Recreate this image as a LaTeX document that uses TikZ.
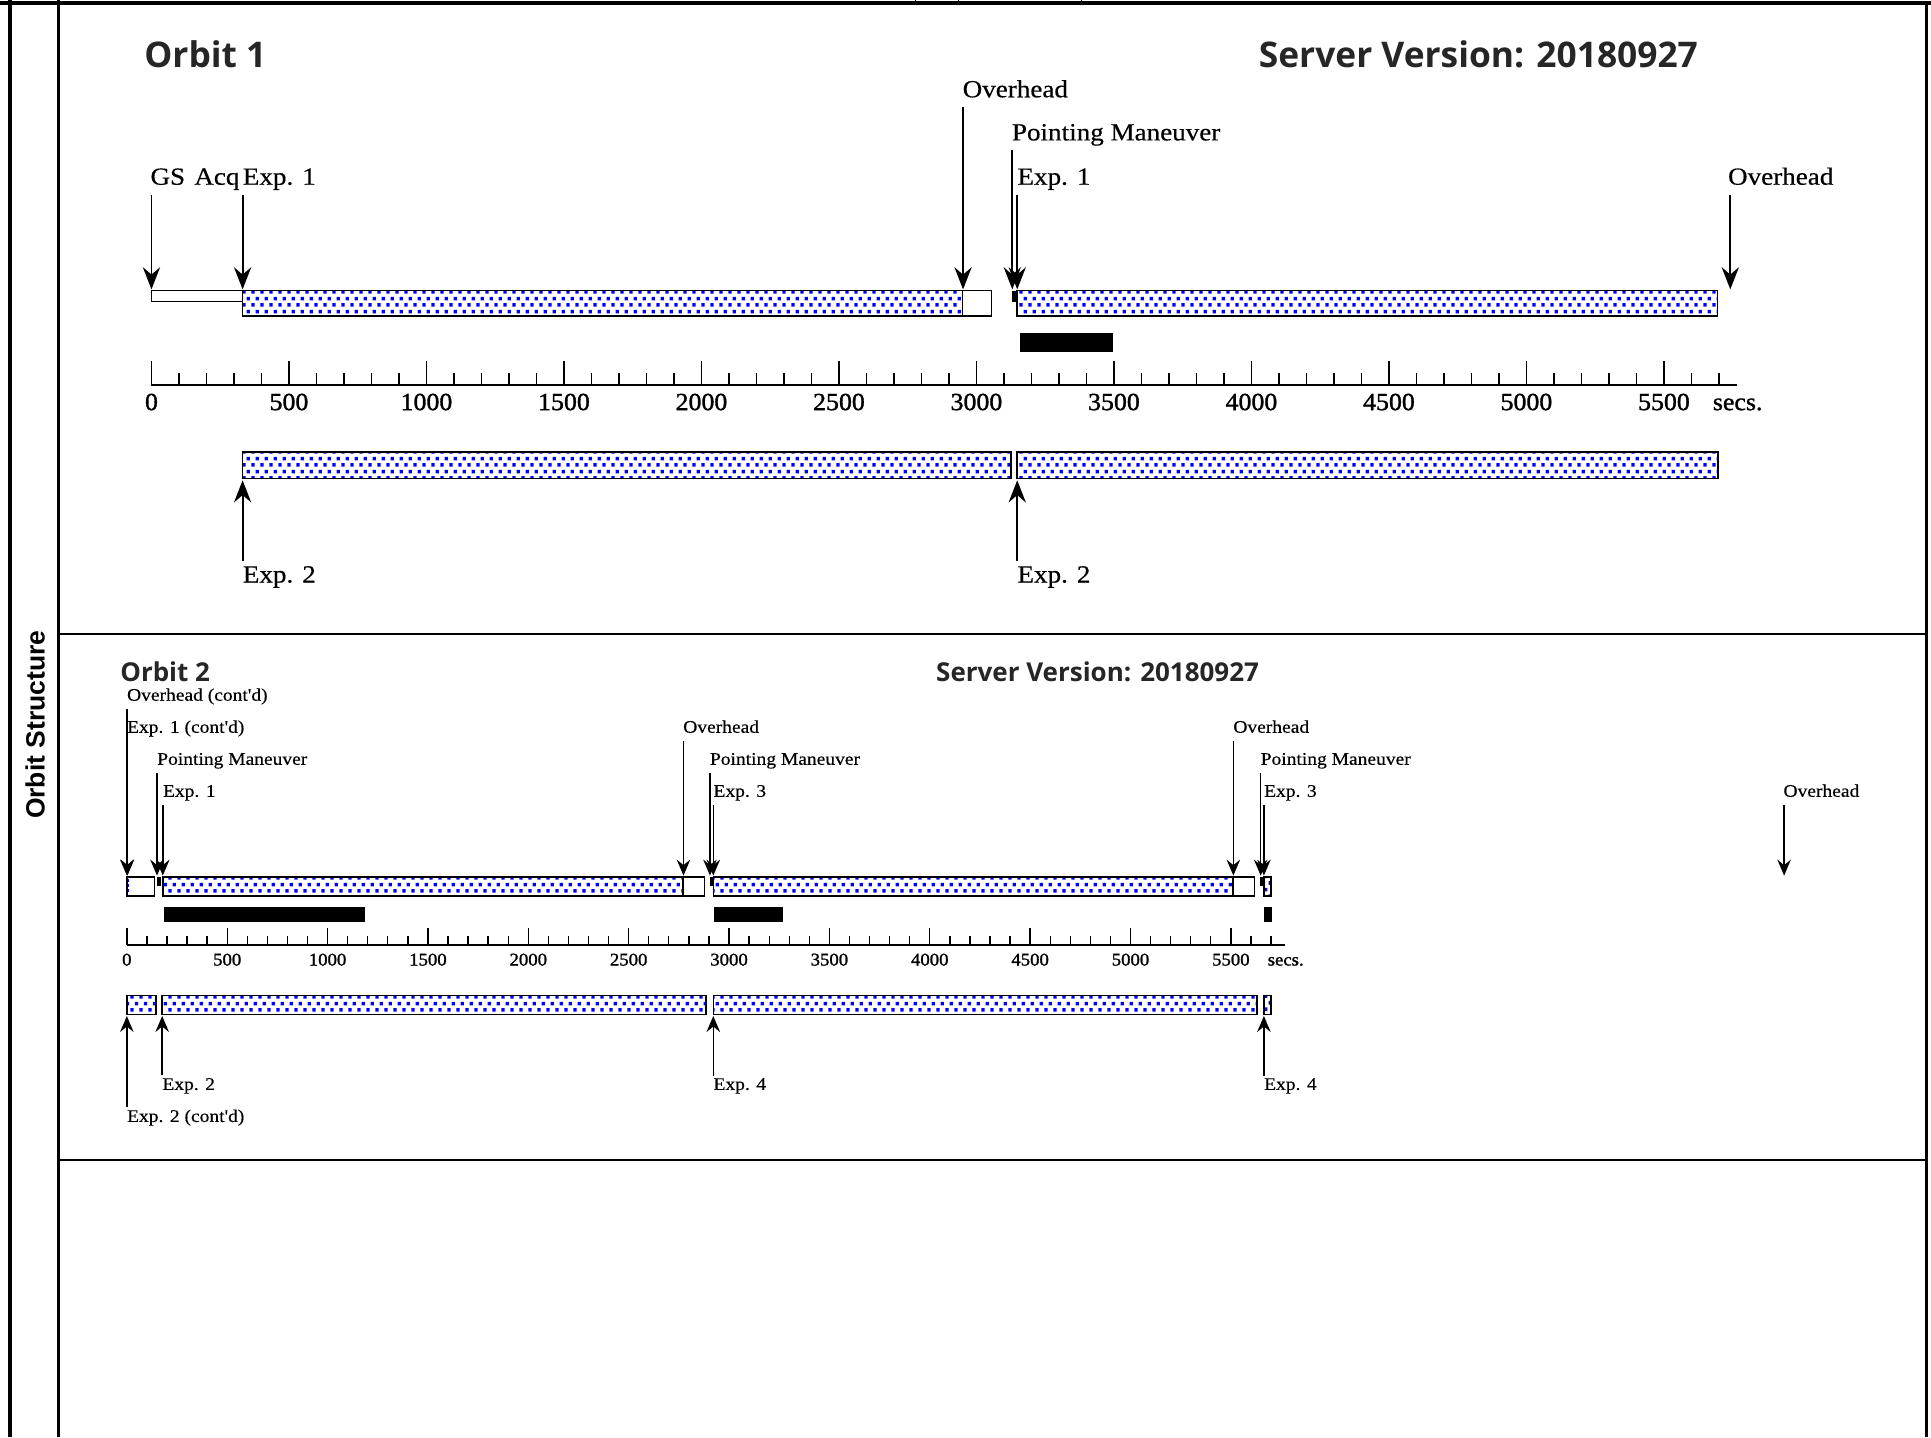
\documentclass[tikz,border=0pt]{standalone}
\usepackage{fontspec}
\setmainfont{Liberation Serif}
\newfontfamily\lblfont[FakeStretch=1.1,FakeBold=0.4]{Liberation Serif}
\newfontfamily\numfont[FakeStretch=1.05,FakeBold=1.3]{Liberation Serif}
\newfontfamily\hdrfont{Open Sans}
\newfontfamily\sidefont{Liberation Sans}
\usetikzlibrary{arrows.meta,patterns}
\pgfdeclarepatternformonly{bdots}{\pgfqpoint{0pt}{0pt}}{\pgfqpoint{7.6pt}{10.8pt}}{\pgfqpoint{7.6pt}{10.8pt}}{%
  \pgfpathrectangle{\pgfqpoint{0.3pt}{0.3pt}}{\pgfqpoint{2.8pt}{3pt}}%
  \pgfpathrectangle{\pgfqpoint{4.1pt}{5.7pt}}{\pgfqpoint{2.8pt}{3pt}}%
  \pgfusepath{fill}}
\tikzset{
  expbar/.style={draw=black, line width=1.2pt, pattern=bdots, pattern color=blue},
  ohbox/.style={draw=black, line width=1.2pt, fill=white},
  slewbox/.style={fill=black},
  obsbar/.style={fill=black},
  axisline/.style={line width=1.6pt},
  tickline/.style={line width=1.1pt},
  lblA/.style={inner sep=0pt, anchor=base west, font=\lblfont\fontsize{20}{21}\selectfont},
  lblB/.style={inner sep=0pt, anchor=base west, font=\lblfont\fontsize{14.4}{15}\selectfont},
  numA/.style={inner sep=0pt, anchor=base, font=\numfont\fontsize{20}{21}\selectfont},
  numB/.style={inner sep=0pt, anchor=base, font=\numfont\fontsize{14.5}{15}\selectfont},
  hdrA/.style={inner sep=0pt, anchor=base west, text=black!85, font=\hdrfont\bfseries\fontsize{28.7}{30}\selectfont},
  hdrB/.style={inner sep=0pt, anchor=base west, text=black!85, font=\hdrfont\bfseries\fontsize{21.1}{22}\selectfont},
  arrA/.style={line width=1.5pt, -{Stealth[length=18pt,width=14pt,inset=6pt]}},
  arrB/.style={line width=1.2pt, -{Stealth[length=13pt,width=11pt,inset=4.5pt]}},
}
\begin{document}
\begin{tikzpicture}[x=1pt,y=-1pt]
\fill[white] (0,0) rectangle (1568,1167);
\path[use as bounding box] (0,0) rectangle (1568,1167);

% ---------------- frame ----------------
\draw[line width=3pt] (0,2.5) -- (1568,2.5);
\draw[line width=3pt] (8,0) -- (8,1167);
\draw[line width=1.8pt] (47.5,0) -- (47.5,1167);
\draw[line width=2pt] (1564.5,2.5) -- (1564.5,1167);
\draw[line width=2pt] (47.5,515) -- (1564.5,515);
\draw[line width=2.2pt] (47.5,942) -- (1564.5,942);
\foreach \sx in {743,778,878} {\draw[line width=0.8pt] (\sx,0) -- (\sx,2.5);}
\node[rotate=90, inner sep=0pt, font=\sidefont\bfseries\fontsize{21.5}{22}\selectfont] (side) at (28.5,588.5) {Orbit Structure};

% ---------------- Orbit 1 ----------------
\node[hdrA] (h1) at (117,54.5) {Orbit 1};
\node[hdrA] (h2) at (1022,54.5) {Server Version: 20180927};

% top row
\draw[ohbox] (123,236) rectangle (197,245);
\draw[expbar] (197,236) rectangle (781.5,256.5);
\draw[ohbox] (781.5,236) rectangle (805,256.5);
\fill[slewbox] (822,236) rectangle (826,245);
\draw[expbar] (826,236) rectangle (1394.5,256.5);
\fill[obsbar] (828,270) rectangle (904,286);

\coordinate (a1) at (123,235);
\coordinate (a2) at (197,235);
\coordinate (a3) at (782,235);
\coordinate (a4) at (822,235);
\coordinate (a5) at (826,235);
\coordinate (a6) at (1405,235);
\node[lblA] (l1) at (122,150) {GS\hspace{2pt} Acq};
\node[lblA] (l2) at (197,150) {Exp. 1};
\node[lblA] (l3) at (781.5,79) {Overhead};
\node[lblA] (l4) at (821.5,114) {Pointing Maneuver};
\node[lblA] (l5) at (826,150) {Exp. 1};
\node[lblA] (l6) at (1403,150) {Overhead};
\draw[arrA] (a1 |- l1.base) ++(0,8) -- (a1);
\draw[arrA] (a2 |- l2.base) ++(0,8) -- (a2);
\draw[arrA] (a3 |- l3.base) ++(0,8) -- (a3);
\draw[arrA] (a4 |- l4.base) ++(0,8) -- (a4);
\draw[arrA] (a5 |- l5.base) ++(0,8) -- (a5);
\draw[arrA] (a6 |- l6.base) ++(0,8) -- (a6);

% axis
\draw[axisline] (123,313) -- (1410.5,313);
\foreach \t in {0,100,...,5700} {\draw[tickline] ({123+0.2233*\t},313) -- ++(0,-10);}
\foreach \t in {0,500,...,5500} {
  \draw[tickline] ({123+0.2233*\t},313) -- ++(0,-20);
  \node[numA] (o1n\t) at ({123+0.2233*\t},333) {\t};
}
\node[numA] (o1secs) at (1411,333) {secs.};

% bottom row
\draw[expbar] (197,367) rectangle (821,388.5);
\draw[expbar] (826,367) rectangle (1395,388.5);
\coordinate (b1) at (197,390);
\coordinate (b2) at (826,390);
\node[lblA] (l7) at (197,473) {Exp. 2};
\node[lblA] (l8) at (826,473) {Exp. 2};
\draw[arrA] (b1 |- l7.north) ++(0,-4) -- (b1);
\draw[arrA] (b2 |- l8.north) ++(0,-4) -- (b2);

% ---------------- Orbit 2 ----------------
\node[hdrB] (h3) at (97.5,553) {Orbit 2};
\node[hdrB] (h4) at (760,553) {Server Version: 20180927};

% top row
\draw[ohbox] (103,712) rectangle (125.5,727.5);
\draw[blue, line width=1.2pt, dash pattern=on 2pt off 2pt] (104.5,714) -- (104.5,726);
\fill[slewbox] (127.5,712) rectangle (130.5,719.5);
\draw[expbar] (132.2,712) rectangle (554.6,727.5);
\draw[ohbox] (554.6,712) rectangle (572.2,727.5);
\fill[slewbox] (576.3,712) rectangle (579.2,719.5);
\draw[expbar] (579.2,712) rectangle (1001.3,727.5);
\draw[ohbox] (1001.3,712) rectangle (1018.8,727.5);
\fill[slewbox] (1023.5,712) rectangle (1026.3,719.5);
\draw[expbar] (1026.3,712) rectangle (1032.2,727.5);
\fill[obsbar] (133,736.3) rectangle (296.6,749);
\fill[obsbar] (579.6,736.3) rectangle (635.5,749);
\fill[obsbar] (1026.3,736.3) rectangle (1033,749);

\coordinate (c1) at (103,711);
\coordinate (c2) at (103.5,711);
\coordinate (c3) at (127.5,711);
\coordinate (c4) at (132.2,711);
\coordinate (c5) at (555,711);
\coordinate (c6) at (576.5,711);
\coordinate (c7) at (579.2,711);
\coordinate (c8) at (1001.5,711);
\coordinate (c9) at (1023.7,711);
\coordinate (c10) at (1026.3,711);
\coordinate (c11) at (1448.7,711);
\node[lblB] (m1) at (103,569) {Overhead (cont'd)};
\node[lblB] (m2) at (103,595) {Exp. 1 (cont'd)};
\node[lblB] (m3) at (127.5,621) {Pointing Maneuver};
\node[lblB] (m4) at (132.2,647) {Exp. 1};
\node[lblB] (m5) at (554.6,595) {Overhead};
\node[lblB] (m6) at (576.3,621) {Pointing Maneuver};
\node[lblB] (m7) at (579.2,647) {Exp. 3};
\node[lblB] (m8) at (1001.3,595) {Overhead};
\node[lblB] (m9) at (1023.5,621) {Pointing Maneuver};
\node[lblB] (m10) at (1026.3,647) {Exp. 3};
\node[lblB] (m11) at (1448,647) {Overhead};
\foreach \i in {1,...,11} {\draw[arrB] (c\i |- m\i.base) ++(0,7) -- (c\i);}

% axis
\draw[axisline] (103,767.4) -- (1043.4,767.4);
\foreach \t in {0,100,...,5700} {\draw[tickline] ({103+0.163*\t},767.4) -- ++(0,-7);}
\foreach \t in {0,500,...,5500} {
  \draw[tickline] ({103+0.163*\t},767.4) -- ++(0,-13.5);
  \node[numB] (o2n\t) at ({103+0.163*\t},784) {\t};
}
\node[numB] (o2secs) at (1044,784) {secs.};

% bottom row
\draw[expbar] (103,808.5) rectangle (126.8,823.7);
\draw[expbar] (131.7,808.5) rectangle (573.4,823.7);
\draw[expbar] (579.2,808.5) rectangle (1020.8,823.7);
\draw[expbar] (1026.3,808.5) rectangle (1032.2,823.7);
\coordinate (d1) at (103,825);
\coordinate (d2) at (131.7,825);
\coordinate (d3) at (579.2,825);
\coordinate (d4) at (1026.3,825);
\node[lblB] (n1) at (103,911) {Exp. 2 (cont'd)};
\node[lblB] (n2) at (131.7,885) {Exp. 2};
\node[lblB] (n3) at (579.2,885) {Exp. 4};
\node[lblB] (n4) at (1026.3,885) {Exp. 4};
\foreach \i in {1,...,4} {\draw[arrB] (d\i |- n\i.north) ++(0,-2) -- (d\i);}
\end{tikzpicture}
\end{document}
